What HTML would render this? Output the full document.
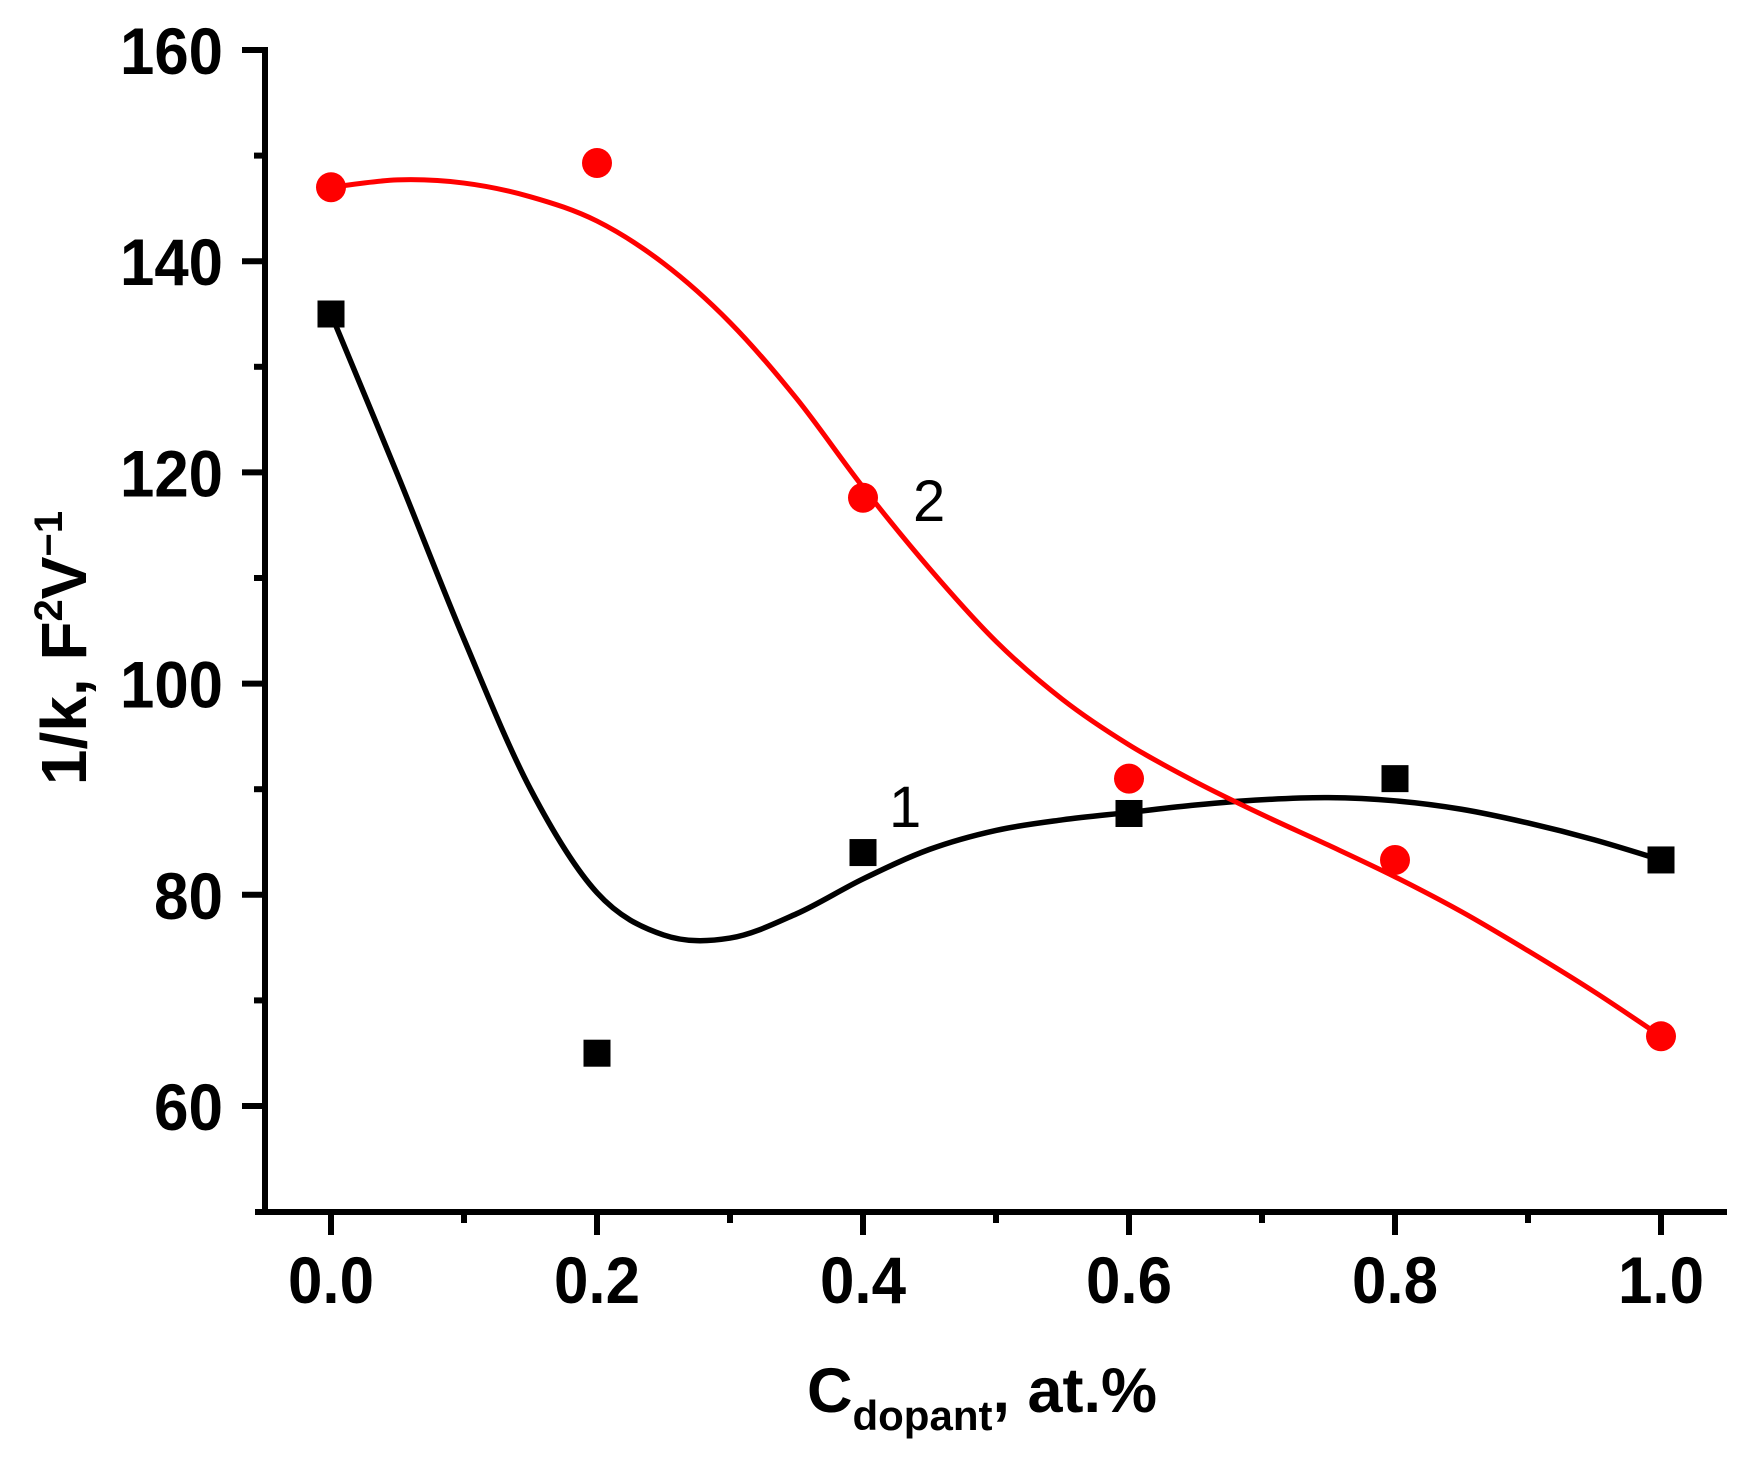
<!DOCTYPE html>
<html><head><meta charset="utf-8"><style>
html,body{margin:0;padding:0;background:#fff;}
svg{display:block;}
</style></head><body>
<svg id="s" width="1759" height="1461" xmlns="http://www.w3.org/2000/svg" font-family="Liberation Sans, Arial, sans-serif">
<g id="axes" stroke="#000" stroke-width="6" fill="none"></g>
<g id="plot"></g>
<g font-weight="bold" font-size="66" fill="#000" id="lbl"></g>
<text x="62" y="648" font-size="64" font-weight="bold" text-anchor="middle" transform="rotate(-90 62 648) translate(0 24)">1/k, F<tspan font-size="40" dy="-24">2</tspan><tspan dy="24">V</tspan><tspan font-size="40" dy="-24">−1</tspan></text>
<text x="807" y="1412" font-size="63" font-weight="bold">C<tspan font-size="42" dy="18">dopant</tspan><tspan dy="-18">, at.%</tspan></text>
<text x="913" y="521" font-size="58">2</text>
<text x="889" y="827" font-size="58">1</text>
</svg>
<script>
var X=function(v){return 331+v*1330;}, Y=function(v){return 50+(160-v)*10.56;};
var ns="http://www.w3.org/2000/svg";
function el(p,t,a,txt){var e=document.createElementNS(ns,t);for(var k in a)e.setAttribute(k,a[k]);if(txt!==undefined)e.textContent=txt;p.appendChild(e);return e;}
var ax=document.getElementById('axes'),pl=document.getElementById('plot'),lb=document.getElementById('lbl');
el(ax,'path',{d:'M265 47 V1212 M255 1212 H1727',"stroke-linecap":"butt"});
for(var v=60;v<=160;v+=20){el(ax,'line',{x1:242,x2:265,y1:Y(v),y2:Y(v)});var s=String(v);el(lb,'text',{x:223,y:Y(v)+24,"text-anchor":"end",textLength:(s.length==3?103:69),lengthAdjust:"spacingAndGlyphs"},s);}
for(var v=70;v<=150;v+=20){el(ax,'line',{x1:254,x2:265,y1:Y(v),y2:Y(v)});}
for(var i=0;i<=10;i++){var x=X(i/10);if(i%2==0){el(ax,'line',{x1:x,x2:x,y1:1212,y2:1235});el(lb,'text',{x:x,y:1303,"text-anchor":"middle",textLength:86,lengthAdjust:"spacingAndGlyphs"},(i/10).toFixed(1));}else el(ax,'line',{x1:x,x2:x,y1:1212,y2:1223});}
function cr(pts){var d='M'+pts[0][0]+' '+pts[0][1];for(var i=0;i<pts.length-1;i++){var p0=pts[i-1]||pts[i],p1=pts[i],p2=pts[i+1],p3=pts[i+2]||p2;d+=' C'+(p1[0]+(p2[0]-p0[0])/6)+' '+(p1[1]+(p2[1]-p0[1])/6)+' '+(p2[0]-(p3[0]-p1[0])/6)+' '+(p2[1]-(p3[1]-p1[1])/6)+' '+p2[0]+' '+p2[1];}return d;}
var bc=[[0,135],[0.05,119.8],[0.1,104.2],[0.15,90],[0.2,80.2],[0.25,76.2],[0.3,75.9],[0.35,78.2],[0.4,81.5],[0.45,84.3],[0.5,86.1],[0.55,87.1],[0.6,87.8],[0.65,88.5],[0.7,89.0],[0.75,89.2],[0.8,88.9],[0.85,88.1],[0.9,86.8],[0.95,85.2],[1,83.3]];
var rc=[[0,147],[0.05,147.7],[0.1,147.4],[0.15,146.1],[0.2,143.8],[0.25,139.8],[0.3,134.2],[0.35,127.0],[0.4,118.6],[0.45,110.9],[0.5,104.0],[0.55,98.5],[0.6,94.2],[0.65,90.7],[0.7,87.6],[0.75,84.7],[0.8,81.7],[0.85,78.4],[0.9,74.7],[0.95,70.8],[1,66.6]];
function tp(a){return a.map(function(p){return [X(p[0]),Y(p[1])];});}
el(pl,'path',{d:cr(tp(bc)),stroke:'#000','stroke-width':5.5,fill:'none'});
el(pl,'path',{d:cr(tp(rc)),stroke:'#ff0000','stroke-width':5,fill:'none'});
var bs=[[0,135],[0.2,65],[0.4,84],[0.6,87.7],[0.8,91],[1,83.3]];
var rs=[[0,147],[0.2,149.3],[0.4,117.6],[0.6,91],[0.8,83.3],[1,66.6]];
bs.forEach(function(p){el(pl,'rect',{x:X(p[0])-13.5,y:Y(p[1])-13.5,width:27,height:27,fill:'#000'});});
rs.forEach(function(p){el(pl,'circle',{cx:X(p[0]),cy:Y(p[1]),r:15,fill:'#ff0000'});});
</script>
</body></html>
